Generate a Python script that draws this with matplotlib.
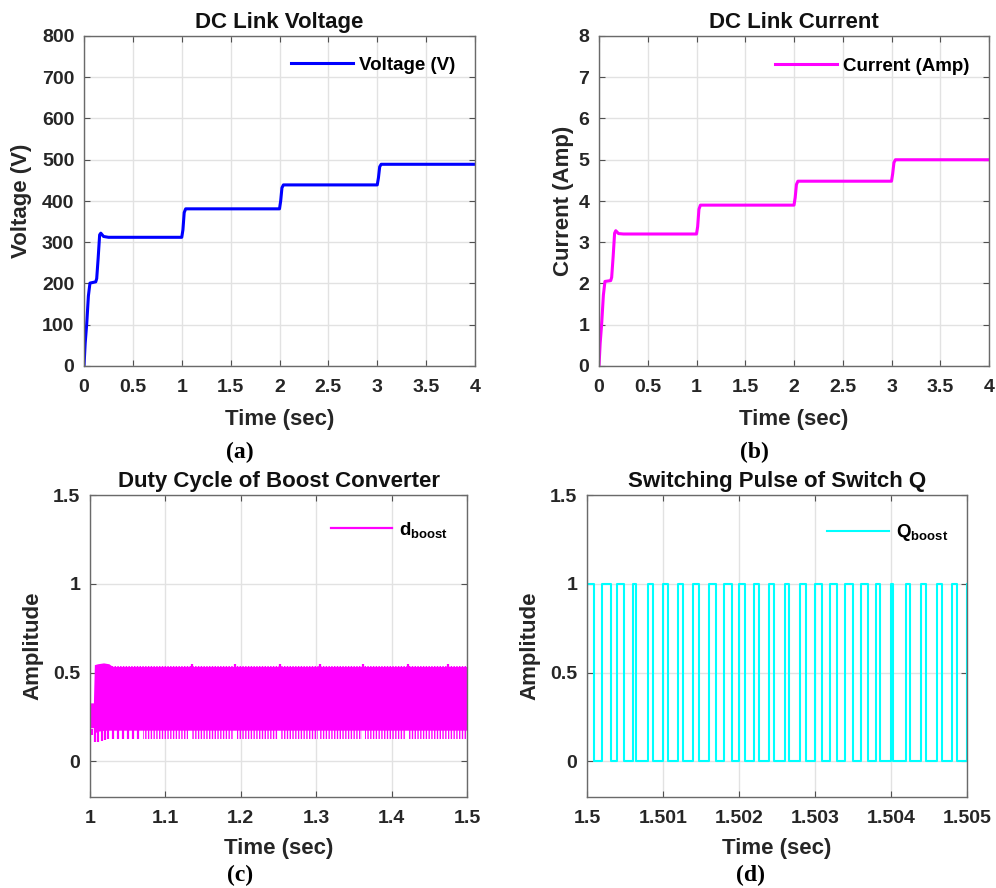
import numpy as np
import matplotlib
matplotlib.use("Agg")
import matplotlib.pyplot as plt
from matplotlib.lines import Line2D

plt.rcParams['font.family'] = ['Liberation Sans', 'DejaVu Sans']
plt.rcParams['font.weight'] = 'bold'
plt.rcParams['mathtext.fontset'] = 'custom'
plt.rcParams['mathtext.rm'] = 'Liberation Sans:bold'
plt.rcParams['mathtext.bf'] = 'Liberation Sans:bold'
plt.rcParams['mathtext.it'] = 'Liberation Sans:bold'
plt.rcParams['hatch.linewidth'] = 1.0

# ---------------- data ----------------
# (a) DC link voltage
v_time = [0, 0.012, 0.028, 0.045, 0.061, 0.12, 0.13, 0.145, 0.16, 0.172, 0.20, 0.25,
          1.0, 1.012, 1.025, 1.04, 2.0, 2.012, 2.025, 2.04, 3.0, 3.012, 3.025, 3.04, 4.0]
v_dc = [0, 55, 103, 170, 201, 204, 212, 262, 318, 322, 314, 312,
        312, 330, 372, 381, 381, 400, 432, 439, 439, 456, 483, 489, 489]

# (b) DC link current
i_time = [0, 0.012, 0.028, 0.045, 0.061, 0.12, 0.13, 0.145, 0.16, 0.172, 0.20, 0.25,
          1.0, 1.012, 1.025, 1.04, 2.0, 2.012, 2.025, 2.04, 3.0, 3.012, 3.025, 3.04, 4.0]
i_dc = [0, 0.55, 1.05, 1.72, 2.05, 2.07, 2.15, 2.65, 3.22, 3.28, 3.21, 3.2,
        3.2, 3.38, 3.8, 3.9, 3.9, 4.08, 4.4, 4.48, 4.48, 4.66, 4.93, 5.0, 5.0]

# (c) boost duty cycle: ripple band envelope and ripple dips/peaks
d_env_time = [1.000, 1.0045, 1.0058, 1.010, 1.018, 1.025, 1.030, 1.500]
d_env_upper = [0.33, 0.33, 0.545, 0.55, 0.555, 0.55, 0.535, 0.535]
d_env_lower = [0.19, 0.19, 0.16, 0.17, 0.175, 0.176, 0.176, 0.176]
d_dip_time = [1.0025, 1.0066, 1.011, 1.0155, 1.0199, 1.0243, 1.031, 1.0375,
              1.0442, 1.0508, 1.0575, 1.064]
d_dip_value = [0.15, 0.108, 0.11, 0.115, 0.12, 0.125, 0.127, 0.127,
               0.127, 0.127, 0.127, 0.127]
d_dip_bands = [(1.0707, 1.1304), (1.1348, 1.1901), (1.1945, 1.2498), (1.2520, 1.3029),
               (1.3050, 1.3603), (1.3647, 1.4178), (1.4222, 1.4731), (1.4752, 1.5)]
d_dip_floor = 0.128
d_peak_time = [1.1348, 1.1923, 1.2520, 1.3050, 1.3625, 1.4222, 1.4752]
d_peak_value = [0.55, 0.55, 0.55, 0.55, 0.55, 0.55, 0.55]

# (d) gate pulses: one duty ratio per switching period
q_t0 = 1.5
q_period = 0.0002
q_duty = [0.46, 0.59, 0.44, 0.22, 0.33, 0.31, 0.29, 0.40, 0.51, 0.55, 0.40, 0.29, 0.29,
          0.29, 0.44, 0.48, 0.48, 0.51, 0.48, 0.29, 0.14, 0.24, 0.31, 0.33, 0.37]

# ticks
a_xticks = [0, 0.5, 1, 1.5, 2, 2.5, 3, 3.5, 4]
a_yticks = [0, 100, 200, 300, 400, 500, 600, 700, 800]
b_yticks = [0, 1, 2, 3, 4, 5, 6, 7, 8]
c_xticks = [1, 1.1, 1.2, 1.3, 1.4, 1.5]
d_xticks = [1.5, 1.501, 1.502, 1.503, 1.504, 1.505]
cd_yticks = [0, 0.5, 1, 1.5]

# ---------------- figure ----------------
W, H = 996, 888
fig = plt.figure(figsize=(W / 100, H / 100), dpi=100)


def add_axes(l, t, r, b):
    return fig.add_axes([l / W, 1 - b / H, (r - l) / W, (b - t) / H])


ax_a = add_axes(84, 36, 475, 366)
ax_b = add_axes(599, 36, 989, 366)
ax_c = add_axes(90, 495, 467, 797)
ax_d = add_axes(587, 495, 967, 797)

TXT = '#262626'


def style(ax, title, ylabel, xticks, yticks, xlim, ylim, ylab_x, xlab_y):
    ax.set_xlim(xlim)
    ax.set_ylim(ylim)
    ax.set_xticks(xticks)
    ax.set_xticklabels([f"{v:g}" for v in xticks])
    ax.set_yticks(yticks)
    ax.set_yticklabels([f"{v:g}" for v in yticks])
    ax.grid(True, color='#e2e2e2', linewidth=1.0)
    ax.set_axisbelow(True)
    ax.tick_params(direction='in', top=True, right=True, length=4, width=0.8,
                   color='#505050', labelsize=14, labelcolor=TXT)
    ax.tick_params(axis='x', pad=9)
    ax.tick_params(axis='y', pad=7)
    for s in ax.spines.values():
        s.set_color('#6a6a6a')
        s.set_linewidth(1.0)
    ax.set_title(title, fontsize=16, fontweight='bold', pad=6, color='#111111')
    ax.set_xlabel('Time (sec)', fontsize=16, fontweight='bold', color=TXT)
    ax.xaxis.set_label_coords(0.5, xlab_y)
    ax.xaxis.label.set_verticalalignment('center')
    ax.set_ylabel(ylabel, fontsize=16, fontweight='bold', color=TXT)
    ax.yaxis.set_label_coords(ylab_x, 0.5)
    ax.yaxis.label.set_verticalalignment('center')


def legend(ax, handle, label, x, y):
    ax.legend([handle], [label], loc='center right', bbox_to_anchor=(x, y),
              frameon=False, fontsize=13.5, handlelength=3.3, handletextpad=0.35,
              borderpad=0, borderaxespad=0)


# (a)
ax_a.plot(v_time, v_dc, color='#0000ff', lw=2.2)
style(ax_a, 'DC Link Voltage', 'Voltage (V)', a_xticks, a_yticks, (0, 4), (0, 800),
      (22 - 84) / 391, (366 - 419) / 330)
legend(ax_a, Line2D([], [], color='#0000ff', lw=2.2), 'Voltage (V)', 0.95, 0.912)

# (b)
ax_b.plot(i_time, i_dc, color='#ff00ff', lw=2.2)
style(ax_b, 'DC Link Current', 'Current (Amp)', a_xticks, b_yticks, (0, 4), (0, 8),
      (563 - 599) / 390, (366 - 419) / 330)
legend(ax_b, Line2D([], [], color='#ff00ff', lw=2.2), 'Current (Amp)', 0.95, 0.909)

# (c)
mag = '#ff00ff'
ax_c.fill_between(d_env_time, d_env_lower, d_env_upper, color=mag, lw=0)
ax_c.vlines(d_dip_time, d_dip_value, 0.18, color=mag, lw=1.6)
ax_c.vlines(d_peak_time, 0.52, d_peak_value, color=mag, lw=1.6)
for s, e in d_dip_bands:
    ax_c.fill_between([s, e], d_dip_floor, 0.18, facecolor='none', edgecolor=mag,
                      hatch='||||||', lw=0)
ax_c.fill_between([d_env_time[4], d_env_time[-1]], 0.52, 0.54, facecolor='none',
                  edgecolor=mag, hatch='||||||', lw=0)
style(ax_c, 'Duty Cycle of Boost Converter', 'Amplitude', c_xticks, cd_yticks,
      (1, 1.5), (-0.2, 1.5), (33 - 90) / 377, (797 - 848) / 302)
legend(ax_c, Line2D([], [], color=mag, lw=1.6), r'$\mathbf{d}_{\mathbf{boost}}$', 0.95, 0.885)

# (d)
q_t = [q_t0]
q_v = [0]
for k, d in enumerate(q_duty):
    t0 = q_t0 + k * q_period
    q_t += [t0, t0 + d * q_period]
    q_v += [1, 0]
q_t.append(q_t0 + len(q_duty) * q_period)
q_v.append(1)
ax_d.plot(q_t, q_v, color='#00ffff', lw=1.5, drawstyle='steps-post')
style(ax_d, 'Switching Pulse of Switch Q', 'Amplitude', d_xticks, cd_yticks,
      (1.5, 1.505), (-0.2, 1.5), (530 - 587) / 380, (797 - 848) / 302)
legend(ax_d, Line2D([], [], color='#00ffff', lw=1.5), r'$\mathbf{Q}_{\mathbf{boost}}$', 0.95, 0.875)

# panel tags
for x, y, tag in [(240, 452, '(a)'), (754, 452, '(b)'), (240, 875, '(c)'), (750, 875, '(d)')]:
    fig.text(x / W, 1 - y / H, tag, ha='center', va='center', family='Liberation Serif',
             fontweight='bold', fontsize=17, color='#000000')

fig.savefig('out.png', dpi=100)
